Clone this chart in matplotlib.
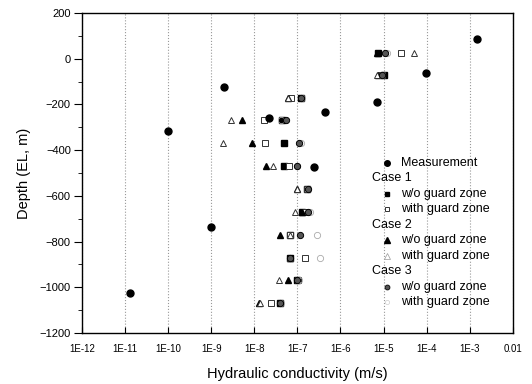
import numpy as np
import matplotlib
matplotlib.use("Agg")
import matplotlib.pyplot as plt
from matplotlib.ticker import LogLocator, MultipleLocator, FixedLocator, FixedFormatter, NullFormatter

plt.rcParams['font.family'] = ['Liberation Sans', 'DejaVu Sans']

# measured hydraulic conductivity (m/s) vs depth (EL, m)
meas_k = [1.3e-11, 1.0e-10, 1.0e-9, 2.0e-9, 2.2e-8, 4.3e-7, 2.4e-7, 1.5e-3, 9.5e-5, 7.1e-6]
meas_depth = [-1025, -315, -735, -122, -258, -232, -475, 86, -62, -191]

# model depths shared by all cases
case_depth = [25, -70, -170, -270, -370, -470, -570, -670, -770, -870, -970, -1070]

case1_wo = [7.5e-6, 1.05e-5, 1.2e-7, 4.5e-8, 4.8e-8, 5.0e-8, 1.7e-7, 1.3e-7, 6.6e-8, 6.6e-8, 1.0e-7, 4.0e-8]
case1_with = [2.6e-5, 9.0e-6, 7.0e-8, 1.7e-8, 1.8e-8, 6.3e-8, 1.7e-7, 1.5e-7, 6.6e-8, 1.53e-7, 1.05e-7, 2.5e-8]
case2_wo = [7.2e-6, 7.5e-6, 6.0e-8, 5.2e-9, 8.9e-9, 1.87e-8, 1.0e-7, 1.3e-7, 4.0e-8, 6.6e-8, 6.0e-8, 1.3e-8]
case2_with = [5.0e-5, 7.0e-6, 6.0e-8, 2.9e-9, 1.9e-9, 2.7e-8, 9.8e-8, 9.0e-8, 6.6e-8, 6.6e-8, 3.7e-8, 1.33e-8]
case3_wo = [1.1e-5, 9.0e-6, 1.2e-7, 5.5e-8, 1.1e-7, 9.8e-8, 1.74e-7, 1.8e-7, 1.18e-7, 6.6e-8, 1.0e-7, 4.0e-8]
case3_with = [1.2e-5, 9.0e-6, 1.3e-7, 4.2e-8, 1.2e-7, 1.0e-7, 1.8e-7, 2.0e-7, 2.8e-7, 3.4e-7, 1.1e-7, 4.2e-8]

xtick_vals = [1e-12, 1e-11, 1e-10, 1e-9, 1e-8, 1e-7, 1e-6, 1e-5, 1e-4, 1e-3, 1e-2]
xtick_labels = ['1E-12', '1E-11', '1E-10', '1E-9', '1E-8', '1E-7', '1E-6', '1E-5', '1E-4', '1E-3', '0.01']

fig = plt.figure(figsize=(5.32, 3.84), dpi=100)
ax = fig.add_axes([0.154, 0.133, 0.81, 0.833])

ax.set_xscale('log')
ax.set_xlim(1e-12, 1e-2)
ax.set_ylim(-1200, 200)

ax.grid(axis='x', which='major', linestyle=':', color='#999999', linewidth=0.8)

series = [
    (case1_wo, dict(marker='s', ms=4.2, mfc='black', mec='black')),
    (case1_with, dict(marker='s', ms=4.2, mfc='white', mec='#333333', mew=0.7)),
    (case2_wo, dict(marker='^', ms=5, mfc='black', mec='black')),
    (case2_with, dict(marker='^', ms=5, mfc='white', mec='#333333', mew=0.7)),
    (case3_with, dict(marker='o', ms=4.5, mfc='none', mec='#aaaaaa', mew=0.6)),
    (case3_wo, dict(marker='o', ms=4.5, mfc='#555555', mec='black', mew=0.7)),
]
for vals, style in series:
    ax.plot(vals, case_depth, linestyle='none', **style)

ax.plot(meas_k, meas_depth, linestyle='none', marker='o', ms=5, mfc='black', mec='black')

ax.xaxis.set_major_locator(FixedLocator(xtick_vals))
ax.xaxis.set_major_formatter(FixedFormatter(xtick_labels))
ax.xaxis.set_minor_locator(LogLocator(base=10, subs=np.arange(2, 10)))
ax.xaxis.set_minor_formatter(NullFormatter())
ax.yaxis.set_major_locator(MultipleLocator(200))
ax.yaxis.set_minor_locator(MultipleLocator(100))

ax.tick_params(axis='x', which='major', direction='in', length=4, labelsize=7, pad=8)
ax.tick_params(axis='x', which='minor', direction='in', length=2)
ax.tick_params(axis='y', which='major', direction='out', length=6, labelsize=8, pad=2)
ax.tick_params(axis='y', which='minor', direction='out', length=3)

for sp in ax.spines.values():
    sp.set_linewidth(1.0)

ax.set_xlabel('Hydraulic conductivity (m/s)', fontsize=10.5, labelpad=9)
ax.set_ylabel('Depth (EL, m)', fontsize=10.5, labelpad=6)

# legend drawn by hand so the case headers sit to the left
leg_rows = [
    ('Measurement', dict(marker='o', ms=4, mfc='black', mec='black')),
    ('Case 1', None),
    ('w/o guard zone', dict(marker='s', ms=3.5, mfc='black', mec='black')),
    ('with guard zone', dict(marker='s', ms=3.5, mfc='white', mec='#333333', mew=0.7)),
    ('Case 2', None),
    ('w/o guard zone', dict(marker='^', ms=4, mfc='black', mec='black')),
    ('with guard zone', dict(marker='^', ms=4, mfc='white', mec='#999999', mew=0.5)),
    ('Case 3', None),
    ('w/o guard zone', dict(marker='o', ms=3.5, mfc='#555555', mec='black', mew=0.6)),
    ('with guard zone', dict(marker='o', ms=3, mfc='none', mec='#cccccc', mew=0.5)),
]
x_head, x_mark, x_text = 0.672, 0.707, 0.74
y0, dy = 0.532, 0.0484
for i, (label, style) in enumerate(leg_rows):
    y = y0 - i * dy
    if style is None:
        ax.text(x_head, y, label, transform=ax.transAxes, fontsize=9, va='center', ha='left')
    else:
        ax.plot([x_mark], [y], transform=ax.transAxes, linestyle='none', clip_on=False, **style)
        ax.text(x_text, y, label, transform=ax.transAxes, fontsize=9, va='center', ha='left')

fig.savefig('out.png', dpi=100)
